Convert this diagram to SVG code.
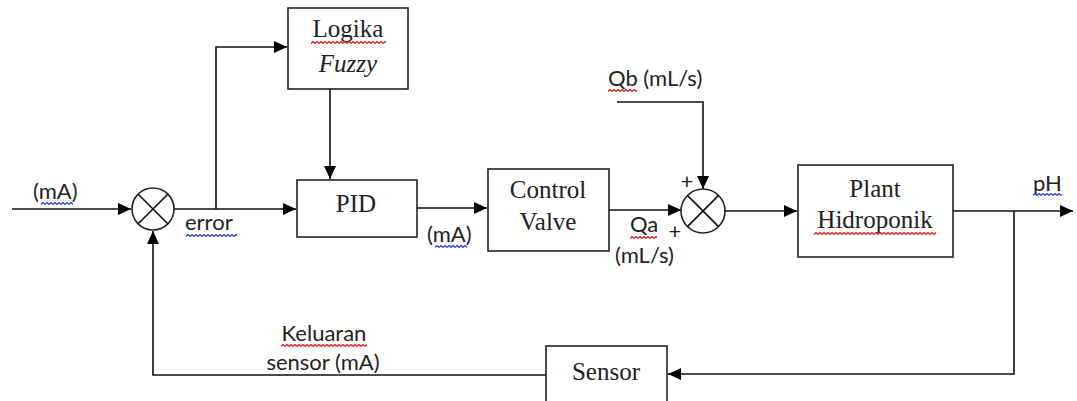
<svg xmlns="http://www.w3.org/2000/svg" width="1077" height="401" viewBox="0 0 1077 401">
<style>
.box{fill:#fff;stroke:#222;stroke-width:1.6}
.ln{fill:none;stroke:#111;stroke-width:1.6}
.sum{fill:#fff;stroke:#222;stroke-width:1.6}
.ser{font-family:"Liberation Serif",serif;font-size:25px;fill:#222;text-anchor:middle}
.san{font-family:Lato,"Liberation Sans",sans-serif;font-size:22px;fill:#222}
.sqr{fill:url(#wr)}
.sqb{fill:url(#wb)}
</style>
<defs>
<marker id="ar" markerUnits="userSpaceOnUse" markerWidth="14" markerHeight="12" refX="13" refY="6" orient="auto">
<path d="M0 0 L13 6 L0 12 Z" fill="#000"/>
</marker>
<pattern id="wr" width="4" height="3" patternUnits="userSpaceOnUse"><path d="M0 2.5 L2 0.5 L4 2.5" stroke="#e02020" stroke-width="1.3" fill="none"/></pattern>
<pattern id="wb" width="4" height="3" patternUnits="userSpaceOnUse"><path d="M0 2.5 L2 0.5 L4 2.5" stroke="#3040e0" stroke-width="1.3" fill="none"/></pattern>
</defs>
<rect width="1077" height="401" fill="#fff"/>

<g id="connectors">
<path class="ln" d="M12 209 H131" marker-end="url(#ar)"/>
<path class="ln" d="M174 209 H296" marker-end="url(#ar)"/>
<path class="ln" d="M216 209 V47 H287" marker-end="url(#ar)"/>
<path class="ln" d="M330 89 V179" marker-end="url(#ar)"/>
<path class="ln" d="M417 208 H487" marker-end="url(#ar)"/>
<path class="ln" d="M609 210 H681" marker-end="url(#ar)"/>
<path class="ln" d="M617 102 H703 V189" marker-end="url(#ar)"/>
<path class="ln" d="M725 211 H797" marker-end="url(#ar)"/>
<path class="ln" d="M953 211 H1073" marker-end="url(#ar)"/>
<path class="ln" d="M1014 211 V374 H668" marker-end="url(#ar)"/>
<path class="ln" d="M546 375 H153 V231" marker-end="url(#ar)"/>
</g>

<g id="sum1">
<circle class="sum" cx="153" cy="209" r="21"/>
<path class="ln" d="M138.2 194.2 L167.8 223.8 M167.8 194.2 L138.2 223.8"/>
</g>
<g id="sum2">
<circle class="sum" cx="703" cy="211" r="22"/>
<path class="ln" d="M687.4 195.4 L718.6 226.6 M718.6 195.4 L687.4 226.6"/>
<text class="san" x="687" y="189" text-anchor="middle">+</text>
<text class="san" x="675" y="239" text-anchor="middle">+</text>
</g>

<g id="fuzzy">
<rect class="box" x="288" y="8" width="120" height="81"/>
<text class="ser" x="348" y="37">Logika</text>
<text class="ser" x="348" y="72" font-style="italic">Fuzzy</text>
<rect class="sqr" transform="translate(311,41)" width="75" height="3"/>
</g>
<g id="pid">
<rect class="box" x="297" y="180" width="120" height="57"/>
<text class="ser" x="356" y="212">PID</text>
</g>
<g id="valve">
<rect class="box" x="488" y="169" width="121" height="82"/>
<text class="ser" x="548" y="198">Control</text>
<text class="ser" x="548" y="230">Valve</text>
</g>
<g id="plant">
<rect class="box" x="798" y="165" width="155" height="92"/>
<text class="ser" x="875" y="197">Plant</text>
<text class="ser" x="875" y="228">Hidroponik</text>
<rect class="sqr" transform="translate(814,232)" width="122" height="3"/>
</g>
<g id="sensor">
<rect class="box" x="546" y="346" width="121" height="58"/>
<text class="ser" x="606" y="380">Sensor</text>
</g>

<g id="labels">
<text class="san" x="33" y="199">(mA)</text>
<rect class="sqb" transform="translate(41,202)" width="32" height="3"/>
<text class="san" x="185" y="230">error</text>
<rect class="sqb" transform="translate(186,234)" width="51" height="3"/>
<text class="san" x="427" y="242">(mA)</text>
<rect class="sqb" transform="translate(435,245)" width="32" height="3"/>
<text class="san" x="608" y="86">Qb (mL/s)</text>
<rect class="sqr" transform="translate(608,89)" width="29" height="3"/>
<text class="san" x="630" y="232">Qa</text>
<rect class="sqr" transform="translate(630,236)" width="27" height="3"/>
<text class="san" x="615" y="263">(mL/s)</text>
<text class="san" x="1033" y="191">pH</text>
<rect class="sqb" transform="translate(1033,193)" width="29" height="3"/>
<text class="san" x="324" y="341" text-anchor="middle">Keluaran</text>
<rect class="sqr" transform="translate(281,344)" width="86" height="3"/>
<text class="san" x="323" y="370" text-anchor="middle">sensor (mA)</text>
</g>
</svg>
